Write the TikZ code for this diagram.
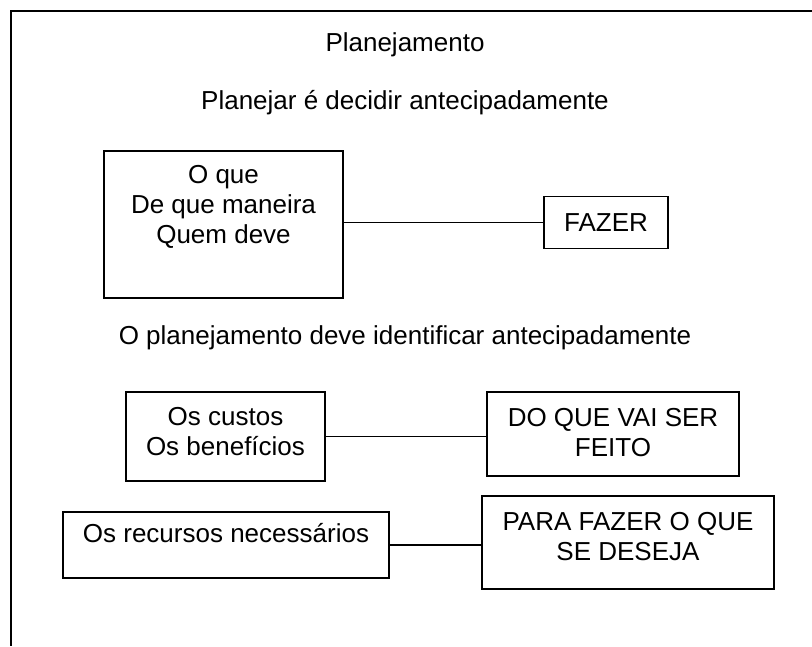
\documentclass[tikz,border=0pt]{standalone}
\usepackage{fontspec}
\setmainfont{Liberation Sans}
\newcommand{\bigtxt}{\fontsize{26pt}{30pt}\selectfont}
\begin{document}
\begin{tikzpicture}[x=1pt,y=-1pt,
  box/.style={draw, line width=1.1pt, inner sep=0pt, align=center, font=\bigtxt},
  conn/.style={line width=1.1pt},
  txt/.style={font=\bigtxt, anchor=base, inner sep=0pt},
  frame/.style={line width=1.6pt}]
\useasboundingbox (0,0) rectangle (812,646);
\draw[frame] (812,11) -- (11,11) -- (11,646);
% titles
\node[txt] (t1) at (405,51) {Planejamento};
\node[txt] (t2) at (405,109) {Planejar é decidir antecipadamente};
\node[txt] (t3) at (405,344) {O planejamento deve identificar antecipadamente};
% boxes
\node[box, minimum width=239pt, minimum height=147pt, text depth=40pt] (big) at (223.5,224.5) {O que\\De que maneira\\Quem deve};
\node[box, minimum width=124pt, minimum height=52pt] (fazer) at (606,222.5) {FAZER};
\node[box, minimum width=199pt, minimum height=89pt, text depth=10pt] (custos) at (225.5,436.5) {Os custos\\Os benefícios};
\node[box, minimum width=252pt, minimum height=84pt, text depth=4pt] (doque) at (613,434) {DO QUE VAI SER\\FEITO};
\node[box, minimum width=326pt, minimum height=66pt, text depth=25pt] (recursos) at (226,545) {Os recursos necessários};
\node[box, minimum width=292pt, minimum height=93pt, text depth=12pt] (para) at (628,542.5) {PARA FAZER O QUE\\SE DESEJA};
% connectors
\draw[conn] (fazer.west) -- (fazer.west -| big.east);
\draw[conn] (custos.east) -- (custos.east -| doque.west);
\draw[conn] (recursos.east) -- (recursos.east -| para.west);
\end{tikzpicture}
\end{document}
